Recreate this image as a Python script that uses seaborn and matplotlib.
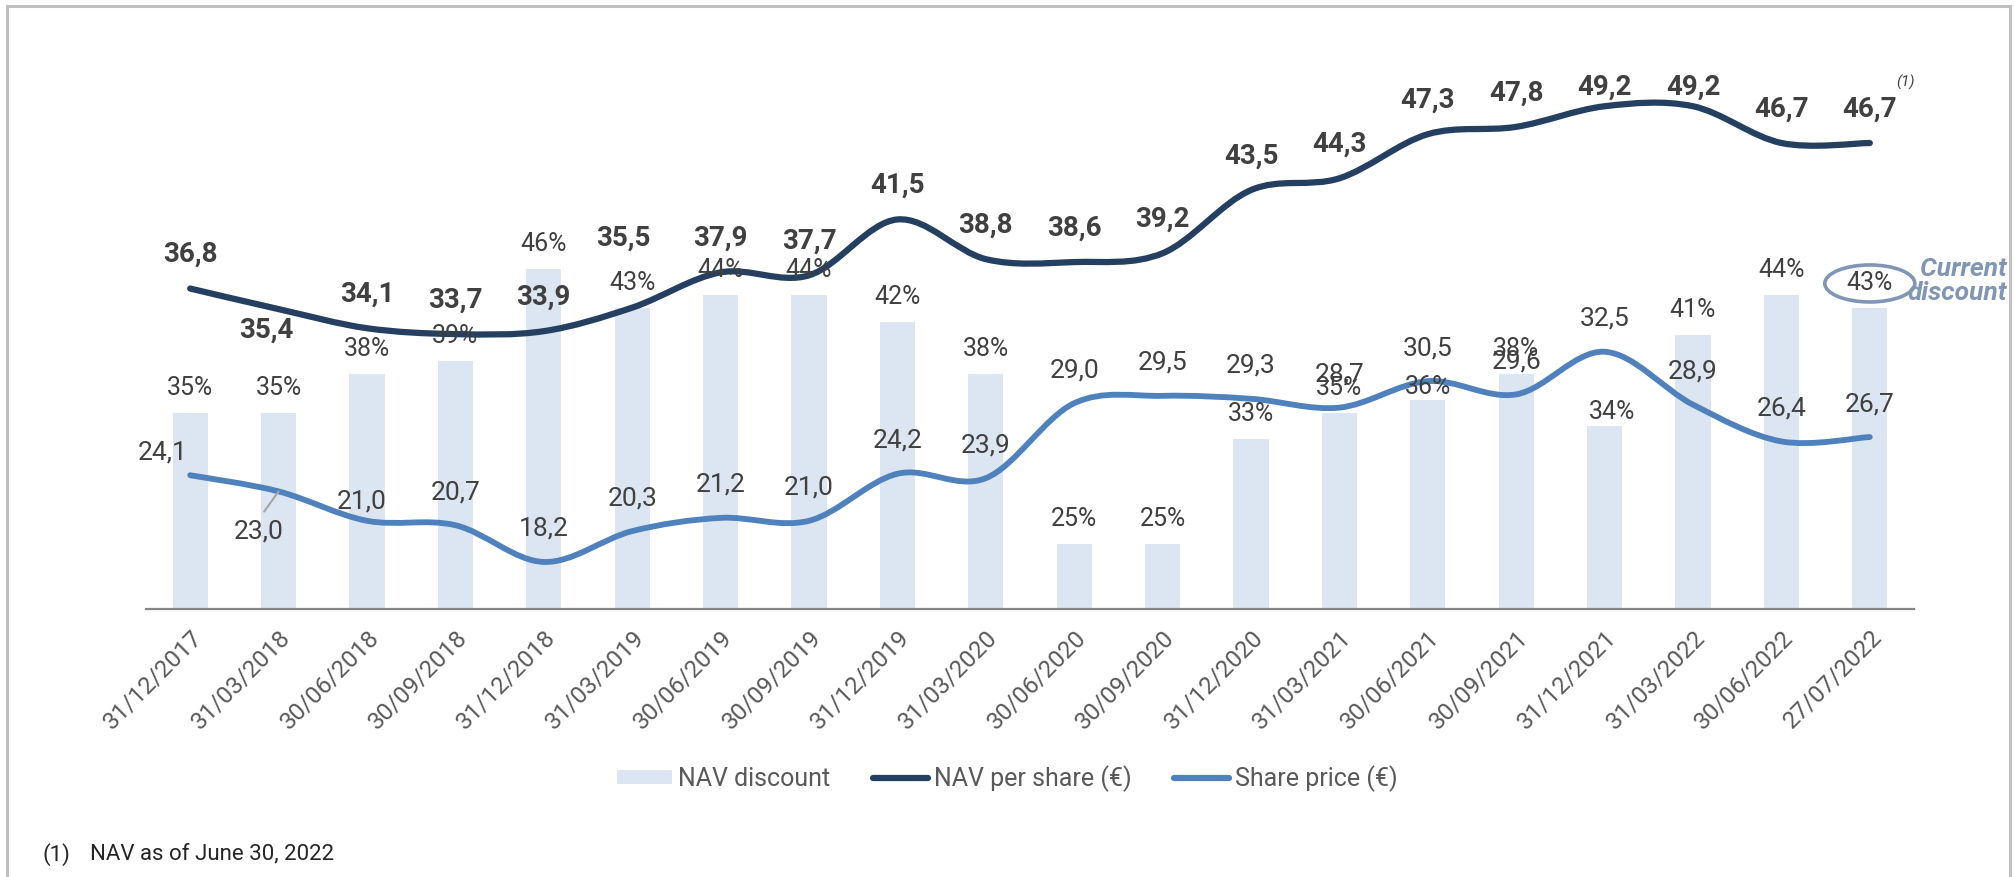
import numpy as np
import seaborn as sns
import matplotlib.pyplot as plt
import matplotlib.transforms as mtransforms
from matplotlib.path import Path
from matplotlib.patches import PathPatch, Patch, Ellipse, Rectangle
from matplotlib.lines import Line2D

# data
dates = ["31/12/2017", "31/03/2018", "30/06/2018", "30/09/2018", "31/12/2018",
         "31/03/2019", "30/06/2019", "30/09/2019", "31/12/2019", "31/03/2020",
         "30/06/2020", "30/09/2020", "31/12/2020", "31/03/2021", "30/06/2021",
         "30/09/2021", "31/12/2021", "31/03/2022", "30/06/2022", "27/07/2022"]
nav_discount = [35, 35, 38, 39, 46, 43, 44, 44, 42, 38,
                25, 25, 33, 35, 36, 38, 34, 41, 44, 43]
nav_per_share = [36.8, 35.4, 34.1, 33.7, 33.9, 35.5, 37.9, 37.7, 41.5, 38.8,
                 38.6, 39.2, 43.5, 44.3, 47.3, 47.8, 49.2, 49.2, 46.7, 46.7]
share_price = [24.1, 23.0, 21.0, 20.7, 18.2, 20.3, 21.2, 21.0, 24.2, 23.9,
               29.0, 29.5, 29.3, 28.7, 30.5, 29.6, 32.5, 28.9, 26.4, 26.7]

# label offsets in pixels (hand placed in the original)
nav_off = {1: (-12, -21), 5: (-9, 69), 16: (0, 19), 17: (0, 19)}
price_off = {0: (-28, 23), 1: (-20, -40), 2: (-5, 19)}
pct_off = {14: (0, 13), 16: (7, 14)}

BAR_COL = "#DCE6F2"
NAV_COL = "#243F60"
PRICE_COL = "#4F81BD"
TXT = "#404040"
NOTE_COL = "#8096B4"


def smooth_path(ys):
    # excel-like smoothed line: bezier segments through every point
    pts = np.column_stack([np.arange(len(ys), dtype=float), ys])
    n = len(pts)
    verts = [pts[0]]
    codes = [Path.MOVETO]
    for i in range(n - 1):
        p0 = pts[max(i - 1, 0)]
        p1 = pts[i]
        p2 = pts[i + 1]
        p3 = pts[min(i + 2, n - 1)]
        verts += [p1 + (p2 - p0) / 6, p2 - (p3 - p1) / 6, p2]
        codes += [Path.CURVE4] * 3
    return Path(verts, codes)


def fmt(v):
    return f"{v:.1f}".replace(".", ",")


sns.set_style("white")
plt.rcParams['font.family'] = ['Roboto', 'DejaVu Sans']

fig = plt.figure(figsize=(20.15, 8.77), dpi=100)
ax = fig.add_axes([146 / 2015, 268 / 877, 1768 / 2015, 588 / 877])

sns.barplot(x=dates, y=nav_discount, color=BAR_COL, saturation=1, width=0.4,
            edgecolor="none", ax=ax)
ax.set_ylim(20, 65)
ax.set_xlim(-0.5, 19.5)
ax.set_yticks([])
ax.set_xlabel("")
ax.set_ylabel("")
for s in ["left", "right", "top"]:
    ax.spines[s].set_visible(False)
ax.spines["bottom"].set_color("#858585")
ax.spines["bottom"].set_linewidth(1.6)
ax.set_xticks(range(len(dates)))
ax.set_xticklabels(dates, rotation=45, ha="right", rotation_mode="anchor",
                   fontsize=17.5, color="#595959")
ax.tick_params(axis="x", length=0, pad=12)

ax2 = ax.twinx()
ax2.set_ylim(15, 55)
ax2.set_yticks([])
for s in ax2.spines.values():
    s.set_visible(False)

ax2.add_patch(PathPatch(smooth_path(share_price), fill=False, edgecolor=PRICE_COL,
                        lw=4.2, capstyle="round", joinstyle="round"))
ax2.add_patch(PathPatch(smooth_path(nav_per_share), fill=False, edgecolor=NAV_COL,
                        lw=4.5, capstyle="round", joinstyle="round"))

# bar labels
for i, v in enumerate(nav_discount):
    dx, dy = pct_off.get(i, (0, 25))
    ax2.annotate(f"{v}%", (i, v), xycoords=ax.transData, xytext=(dx, dy),
                 textcoords="offset pixels", ha="center", va="center",
                 fontsize=18, color=TXT)

# share price labels
for i, v in enumerate(share_price):
    dx, dy = price_off.get(i, (0, 33))
    arrow = None
    if i == 1:
        arrow = dict(arrowstyle="-", color="#A6A6A6", lw=1.5, shrinkA=4,
                     shrinkB=0, relpos=(0.5, 1.0))
    ax2.annotate(fmt(v), (i, v), xytext=(dx, dy), textcoords="offset pixels",
                 ha="center", va="center", fontsize=19, color=TXT,
                 arrowprops=arrow)

# nav labels
for i, v in enumerate(nav_per_share):
    dx, dy = nav_off.get(i, (0, 34))
    ax2.annotate(fmt(v), (i, v), xytext=(dx, dy), textcoords="offset pixels",
                 ha="center", va="center", fontsize=20, color=TXT,
                 fontweight="bold")

last = len(dates) - 1
ax2.annotate("(1)", (last, nav_per_share[last]), xytext=(36, 61),
             textcoords="offset pixels", ha="center", va="center",
             fontsize=11, fontstyle="italic", color=TXT)

# circle around current discount
ell = Ellipse((0, 25), width=90, height=37, fill=False, edgecolor=NOTE_COL, lw=2.6,
              transform=mtransforms.ScaledTranslation(last, nav_discount[last], ax.transData),
              clip_on=False)
ax2.add_artist(ell)
fig.text(0.996, 0.680, "Current\ndiscount", ha="right", va="center", fontsize=19,
         fontweight="bold", fontstyle="italic", color=NOTE_COL, linespacing=1.0,
         multialignment="right")

handles = [Patch(facecolor=BAR_COL, edgecolor="none"),
           Line2D([], [], color=NAV_COL, lw=4.5, solid_capstyle="round"),
           Line2D([], [], color=PRICE_COL, lw=4.5, solid_capstyle="round")]
fig.legend(handles, ["NAV discount", "NAV per share (€)", "Share price (€)"],
           loc="center", bbox_to_anchor=(0.5, 0.112), ncol=3, frameon=False,
           fontsize=18, handlelength=2.2, handleheight=0.5, handletextpad=0.25,
           columnspacing=1.7, labelcolor="#595959")

fig.text(43 / 2015, 0.026, "(1)", fontsize=16, va="center", color="#262626")
fig.text(90 / 2015, 0.026, "NAV as of June 30, 2022", fontsize=16, va="center",
         color="#262626")

fig.add_artist(Rectangle((7 / 2015, -0.05), 2003 / 2015, 0.05 + 871 / 877,
                         transform=fig.transFigure, fill=False,
                         edgecolor="#BFBFBF", lw=2.2, clip_on=False))

fig.savefig("out.png", dpi=100)
